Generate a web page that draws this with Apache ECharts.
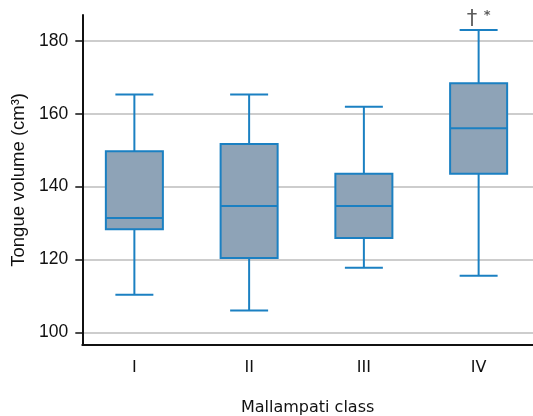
<!DOCTYPE html>
<html>
<head>
<meta charset="utf-8">
<script src="https://cdn.jsdelivr.net/npm/echarts@6/dist/echarts.min.js"></script>
<style>
  html, body { margin: 0; padding: 0; background: #fff; }
  #chart { width: 533px; height: 416px; }
</style>
</head>
<body>
<div id="chart"></div>
<script>
// data
var categories = ['I', 'II', 'III', 'IV'];
// [min, Q1, median, Q3, max]
var boxData = [
  [110.3, 128.3, 131.4, 149.7, 165.3],
  [106.0, 120.4, 134.7, 151.7, 165.3],
  [117.7, 125.9, 134.7, 143.5, 161.9],
  [115.5, 143.5, 156.0, 168.4, 183.0]
];
var yTicks = [100, 120, 140, 160, 180];
var yMin = 96.6, yMax = 187.1;
var annotation = { category: 'IV', value: 183.0, text: '{d|†}  {s|*}' };

var fillColor = '#8ea3b7';
var lineColor = '#1b80c2';

var customData = boxData.map(function (d, i) { return [i].concat(d); });

function renderBox(params, api) {
  var idx = api.value(0);
  var band = api.size([1, 0])[0];
  var boxHalf = band * 0.497 / 2;
  var capHalf = band * 0.331 / 2;
  var pMin = api.coord([idx, api.value(1)]);
  var pQ1 = api.coord([idx, api.value(2)]);
  var pMed = api.coord([idx, api.value(3)]);
  var pQ3 = api.coord([idx, api.value(4)]);
  var pMax = api.coord([idx, api.value(5)]);
  var x = pMed[0];
  var ls = { stroke: lineColor, lineWidth: 2, fill: null };
  return {
    type: 'group',
    children: [
      { type: 'line', shape: { x1: x, y1: pMax[1], x2: x, y2: pQ3[1] }, style: ls },
      { type: 'line', shape: { x1: x, y1: pQ1[1], x2: x, y2: pMin[1] }, style: ls },
      { type: 'line', shape: { x1: x - capHalf, y1: pMax[1], x2: x + capHalf, y2: pMax[1] }, style: ls },
      { type: 'line', shape: { x1: x - capHalf, y1: pMin[1], x2: x + capHalf, y2: pMin[1] }, style: ls },
      {
        type: 'rect',
        shape: { x: x - boxHalf, y: pQ3[1], width: boxHalf * 2, height: pQ1[1] - pQ3[1] },
        style: { fill: fillColor, stroke: lineColor, lineWidth: 2 }
      },
      { type: 'line', shape: { x1: x - boxHalf, y1: pMed[1], x2: x + boxHalf, y2: pMed[1] }, style: ls }
    ]
  };
}

var myChart = echarts.init(document.getElementById('chart'));

var option = {
  animation: false,
  grid: [
    { left: 77, width: 459, top: 15, bottom: 71.3, containLabel: false, outerBoundsMode: 'none' },
    { left: 82.3, right: 0, top: 15, bottom: 71.3, containLabel: false, outerBoundsMode: 'none' }
  ],
  xAxis: [
    {
      type: 'category', gridIndex: 0, data: categories, boundaryGap: true,
      axisLine: { show: false }, axisTick: { show: false },
      axisLabel: { margin: 15, color: '#111', fontFamily: 'DejaVu Sans', fontSize: 16 }
    },
    {
      type: 'value', gridIndex: 1, min: 0, max: 1,
      axisLine: { show: true, onZero: false, lineStyle: { color: '#111', width: 2 } },
      axisTick: { show: false }, axisLabel: { show: false }, splitLine: { show: false },
      name: 'Mallampati class', nameLocation: 'middle', nameGap: 55,
      nameTextStyle: { color: '#111', fontFamily: 'DejaVu Sans', fontSize: 16 }
    }
  ],
  yAxis: [
    {
      type: 'value', gridIndex: 0, min: yMin, max: yMax,
      axisLine: { show: false }, axisTick: { show: false },
      axisLabel: { show: false }, splitLine: { show: false }
    },
    {
      type: 'value', gridIndex: 1, min: yMin, max: yMax,
      axisLine: { show: true, onZero: false, lineStyle: { color: '#111', width: 2 } },
      axisTick: { show: true, length: 7, customValues: yTicks, lineStyle: { color: '#111', width: 1.5 } },
      axisLabel: { customValues: yTicks, margin: 14, color: '#111', fontFamily: 'Liberation Sans', fontSize: 17.5 },
      splitLine: { show: true, lineStyle: { color: '#bdbdbd', width: 1.5 } },
      name: 'Tongue volume (cm\u00b3)', nameLocation: 'middle', nameGap: 50,
      nameTextStyle: { color: '#111', fontFamily: 'Liberation Sans', fontSize: 18.5 }
    }
  ],
  series: [
    {
      name: 'boxes', type: 'custom', xAxisIndex: 0, yAxisIndex: 0,
      renderItem: renderBox, data: customData,
      encode: { x: 0, y: [1, 2, 3, 4, 5] }
    },
    {
      name: 'note', type: 'scatter', xAxisIndex: 0, yAxisIndex: 0,
      symbolSize: 0, silent: true,
      data: [[annotation.category, annotation.value]],
      label: {
        show: true, position: 'top', distance: -1, formatter: annotation.text,
        rich: {
          d: { fontFamily: 'DejaVu Sans', fontSize: 21, color: '#333', lineHeight: 22 },
          s: { fontFamily: 'DejaVu Sans', fontSize: 13, color: '#333', fontWeight: 'bold', lineHeight: 22, verticalAlign: 'top' }
        }
      }
    }
  ]
};
myChart.setOption(option);
</script>
</body>
</html>
